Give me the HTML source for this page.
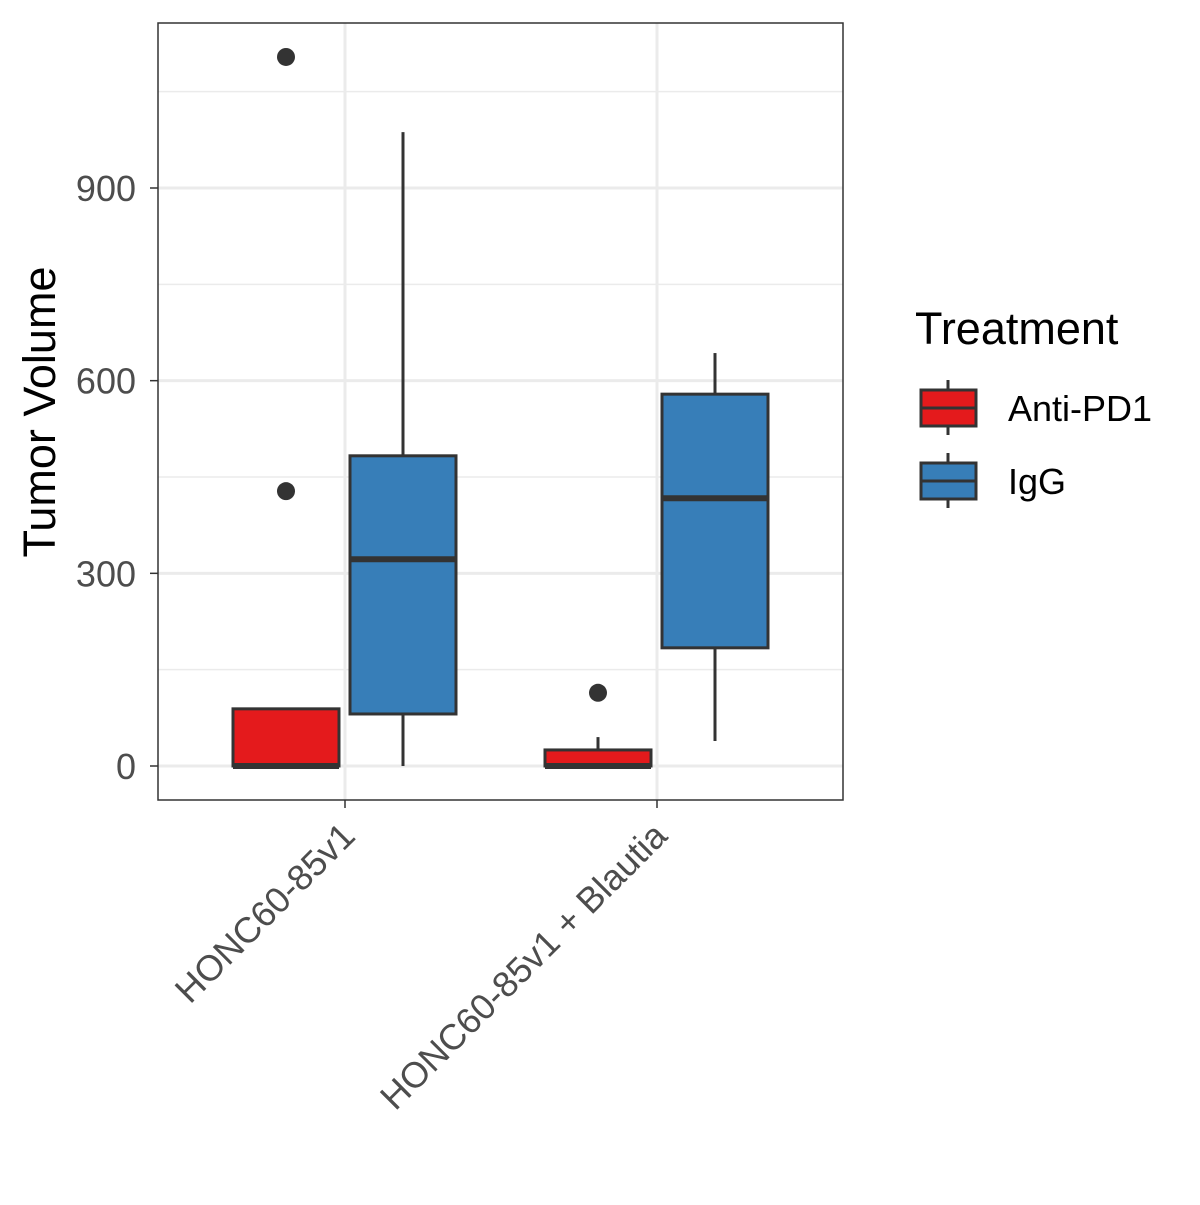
<!DOCTYPE html>
<html><head><meta charset="utf-8"><style>
body{margin:0;background:#fff}
svg text{font-family:"Liberation Sans",Arial,sans-serif}
</style></head><body>
<svg id="chart" width="1200" height="1200" viewBox="0 0 1200 1200" xmlns="http://www.w3.org/2000/svg">
<rect x="0" y="0" width="1200" height="1200" fill="#fff"/>
<g id="grid"></g>
<g id="marks"></g>
<rect x="158" y="23" width="685" height="777" fill="none" stroke="#333" stroke-width="1.5"/>
<g id="axes"></g>
<text x="55" y="412" font-size="45" fill="#000" text-anchor="middle" transform="rotate(-90 55 412)">Tumor Volume</text>
<g>
<text x="915" y="344" font-size="45" fill="#000">Treatment</text>
<g>
<line x1="948" y1="380" x2="948" y2="435" stroke="#333" stroke-width="3"/>
<rect x="921" y="390" width="55" height="36" fill="#E41A1C" stroke="#333" stroke-width="3"/>
<line x1="921" y1="408" x2="976" y2="408" stroke="#333" stroke-width="3"/>
<text x="1008" y="421" font-size="36" fill="#000">Anti-PD1</text>
</g>
<g>
<line x1="948" y1="453" x2="948" y2="508" stroke="#333" stroke-width="3"/>
<rect x="921" y="463" width="55" height="36" fill="#377EB8" stroke="#333" stroke-width="3"/>
<line x1="921" y1="481" x2="976" y2="481" stroke="#333" stroke-width="3"/>
<text x="1008" y="494" font-size="36" fill="#000">IgG</text>
</g>
</g>
</svg>
<script>
const categories = ["HONC60-85v1", "HONC60-85v1 + Blautia"];
const treatments = ["Anti-PD1", "IgG"];
const colors = ["#E41A1C", "#377EB8"];
// [whiskerLow, q1, median, q3, whiskerHigh] per category per treatment
const antiPD1Stats = [[0, 0, 0, 89, 89], [0, 0, 0, 25, 45]];
const iggStats = [[0, 81, 322, 483, 987], [39, 184, 417, 579, 643]];
const antiPD1Outliers = [[428, 1104], [114]];
const iggOutliers = [[], []];
const yTicks = [0, 300, 600, 900];
const yMinor = [150, 450, 750, 1050];

const NS = "http://www.w3.org/2000/svg";
function y(v){ return 766 - v * (578/900); }
function xCat(i){ return 345 + i * 312; }
function mk(tag, attrs, parent){ const e=document.createElementNS(NS,tag); for(const k in attrs) e.setAttribute(k, attrs[k]); parent.appendChild(e); return e; }
const grid=document.getElementById("grid"), marks=document.getElementById("marks"), axes=document.getElementById("axes");

yMinor.forEach(v=>{ const l=mk("line",{x1:158,x2:843,y1:y(v),y2:y(v),stroke:"#ebebeb","stroke-width":1.5},grid);

 });
yTicks.forEach(v=>{ const l=mk("line",{x1:158,x2:843,y1:y(v),y2:y(v),stroke:"#ebebeb","stroke-width":3},grid);


const t=mk("line",{x1:150,x2:158,y1:y(v),y2:y(v),stroke:"#333","stroke-width":1.5},axes);


const tx=mk("text",{x:136,y:y(v)+13,"font-size":36,fill:"#4d4d4d","text-anchor":"end"},axes); tx.textContent=v;

 });
categories.forEach((c,i)=>{ const l=mk("line",{x1:xCat(i),x2:xCat(i),y1:23,y2:800,stroke:"#ebebeb","stroke-width":3},grid);


const t=mk("line",{x1:xCat(i),x2:xCat(i),y1:800,y2:808,stroke:"#333","stroke-width":1.5},axes);


const tx=mk("text",{x:xCat(i)+12,y:838,"font-size":36,fill:"#4d4d4d","text-anchor":"end",transform:`rotate(-45 ${xCat(i)+12} 838)`},axes); tx.textContent=c;

 });

const allStats=[antiPD1Stats, iggStats], allOut=[antiPD1Outliers, iggOutliers];
categories.forEach((c,i)=>{ treatments.forEach((tr,j)=>{
  const s=allStats[j][i]; const cx=xCat(i)+(j===0?-59:58); const hw=53;
  const g=mk("g",{},marks);
  
  
  mk("line",{x1:cx,x2:cx,y1:y(s[0]),y2:y(s[1]),stroke:"#333","stroke-width":3},g);
  mk("line",{x1:cx,x2:cx,y1:y(s[3]),y2:y(s[4]),stroke:"#333","stroke-width":3},g);
  mk("rect",{x:cx-hw,y:y(s[3]),width:2*hw,height:Math.max(y(s[1])-y(s[3]),0),fill:colors[j],stroke:"#333","stroke-width":3},g);
  mk("line",{x1:cx-hw,x2:cx+hw,y1:y(s[2]),y2:y(s[2]),stroke:"#333","stroke-width":6},g);
  allOut[j][i].forEach(o=>{ const p=mk("circle",{cx:cx,cy:y(o),r:9,fill:"#333"},g);
  
   });
});});
</script>
</body></html>
